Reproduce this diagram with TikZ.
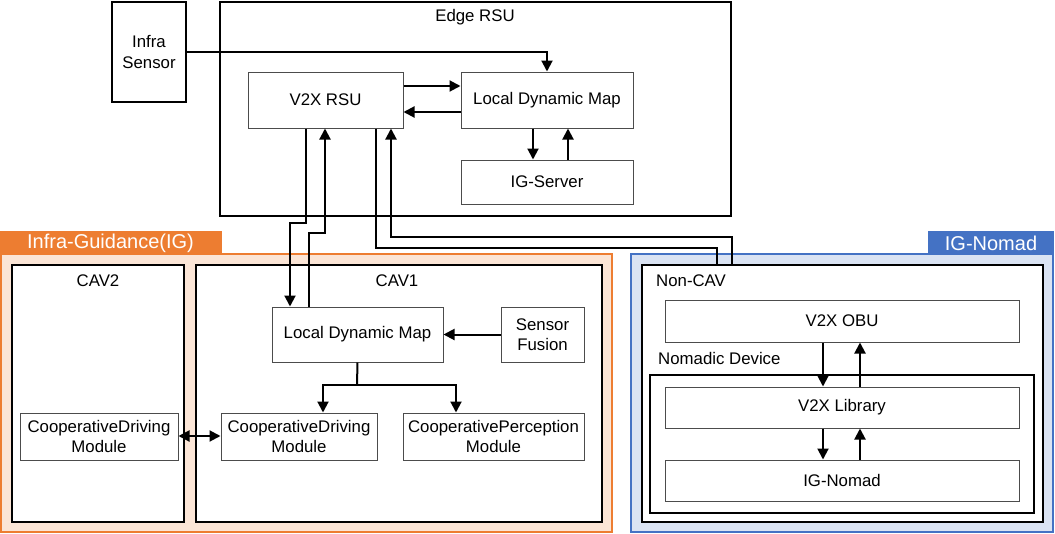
\documentclass[tikz,border=0pt]{standalone}
\usepackage{fontspec}
\setmainfont{Liberation Sans}
\usetikzlibrary{arrows.meta}
\definecolor{igorange}{HTML}{ED7D31}
\definecolor{igpeach}{HTML}{FBE5D6}
\definecolor{nomblue}{HTML}{4472C4}
\definecolor{nomlight}{HTML}{DAE3F3}
\newcommand\bx[7][box]{%
  \node[#1, minimum width={(#5-#3)*1pt}, minimum height={(#6-#4)*1pt}] (#2) at ({(#3+#5)/2},{(#4+#6)/2}) {#7};}
\begin{document}
\begin{tikzpicture}[x=1pt,y=-1pt,
  box/.style={draw=black!70, line width=1pt, fill=white, font=\fontsize{16.8}{20.5}\selectfont, align=center, inner sep=0pt},
  frame/.style={draw=black, line width=2pt, fill=white, font=\fontsize{16.8}{20.5}\selectfont, align=center, inner sep=0pt},
  region/.style={line width=2pt},
  tab/.style={font=\fontsize{20}{23}\selectfont, text=white, inner sep=0pt},
  lbl/.style={font=\fontsize{16.8}{20.5}\selectfont, inner sep=0pt},
  arr/.style={line width=2pt, -{Triangle[length=11pt,width=11pt]}},
  darr/.style={line width=2pt, {Triangle[length=11pt,width=11pt]}-{Triangle[length=11pt,width=11pt]}},
  ln/.style={line width=2pt}]
\useasboundingbox (0,0) rectangle (1055,533);
% regions
\bx[region, draw=igorange, fill=igpeach]{igreg}{1}{254}{612}{532}{}
\bx[region, fill=igorange, draw=igorange]{igtab}{0}{232}{221}{254}{}
\node[tab] (igtabtxt) at (igtab.center) {Infra-Guidance(IG)};
\bx[region, draw=nomblue, fill=nomlight]{nreg}{631}{254}{1053}{532}{}
\bx[region, fill=nomblue, draw=nomblue]{ntab}{929}{232}{1053}{254}{}
\node[tab] (ntabtxt) at (ntab.center) {IG-Nomad};
% frames
\bx[frame]{infra}{112}{2}{186}{102}{Infra\\Sensor}
\bx[frame]{edge}{220}{2}{731}{216}{}
\node[lbl] (edgelbl) at (475,17) {Edge RSU};
\bx[frame]{cav2}{12}{265}{184}{522}{}
\node[lbl] (cav2lbl) at (98,281) {CAV2};
\bx[frame]{cav1}{196}{265}{602}{522}{}
\node[lbl] (cav1lbl) at (397,281) {CAV1};
\bx[frame]{noncav}{642}{265}{1043}{522}{}
\node[lbl, anchor=west] (noncavlbl) at (656,281) {Non-CAV};
\bx[frame]{nomadic}{650}{375}{1034}{513}{}
\node[lbl, anchor=west] (nomlbl) at (658,358) {Nomadic Device};
% boxes
\bx{v2x}{248}{72}{403}{128}{V2X RSU}
\bx{ldme}{461}{72}{633}{128}{Local Dynamic Map}
\bx{igs}{461}{160}{633}{204}{IG-Server}
\bx{ldm1}{272}{307}{443}{362}{Local Dynamic Map}
\bx{sf}{501}{307}{584}{362}{Sensor\\Fusion}
\bx{cdm2}{20}{413}{178}{460}{CooperativeDriving\\Module}
\bx{cdm1}{221}{413}{377}{460}{CooperativeDriving\\Module}
\bx{cpm}{403}{413}{584}{460}{CooperativePerception\\Module}
\bx{obu}{665}{300}{1019}{342}{V2X OBU}
\bx{lib}{665}{387}{1019}{428}{V2X Library}
\bx{ign}{665}{460}{1019}{501}{IG-Nomad}
% connectors
\draw[arr] (infra.east) -| (ldme.north);
\draw[arr] (v2x.east |- 0,86) -- (ldme.west |- 0,86);
\draw[arr] (ldme.west |- 0,112) -- (v2x.east |- 0,112);
\draw[arr] (ldme.south -| 533,0) -- (igs.north -| 533,0);
\draw[arr] (igs.north -| 568,0) -- (ldme.south -| 568,0);
\draw[arr] (v2x.south -| 306,0) |- (290,223) -- (ldm1.north -| 290,0);
\draw[arr] (ldm1.north -| 309,0) |- (325,233) -- (v2x.south -| 325,0);
\draw[ln] (v2x.south -| 376,0) |- (717,248) -- (noncav.north -| 717,0);
\draw[arr] (noncav.north -| 732,0) |- (391,237) -- (v2x.south -| 391,0);
\draw[arr] (sf.west) -- (ldm1.east);
\draw[ln] (ldm1.south) -- (357,385) coordinate (split);
\draw[arr] (split) -| (cdm1.north -| 323,0);
\draw[arr] (split) -| (cpm.north -| 456,0);
\draw[darr] (cdm2.east |- 0,436) -- (cdm1.west |- 0,436);
\draw[arr] (obu.south -| 823,0) -- (lib.north -| 823,0);
\draw[arr] (lib.north -| 860,0) -- (obu.south -| 860,0);
\draw[arr] (lib.south -| 823,0) -- (ign.north -| 823,0);
\draw[arr] (ign.north -| 860,0) -- (lib.south -| 860,0);
\end{tikzpicture}
\end{document}
